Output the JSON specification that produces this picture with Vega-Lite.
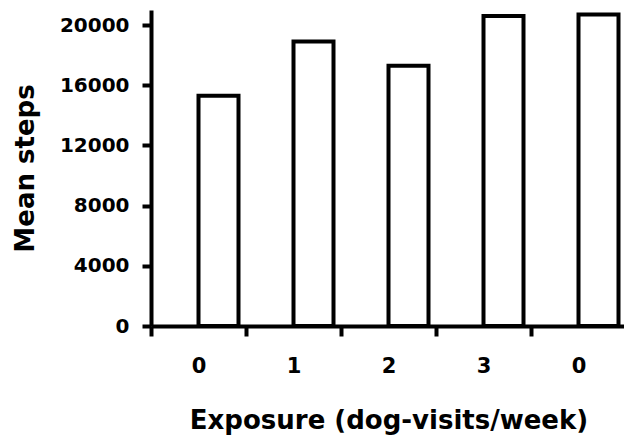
{
  "$schema": "https://vega.github.io/schema/vega-lite/v6.json",
  "width": 475,
  "height": 316,
  "autosize": "none",
  "padding": {"left": 151, "top": 10, "right": 0, "bottom": 111},
  "background": "white",
  "data": {
    "values": [
      {"slot": 1, "exposure": "0", "mean_steps": 15300},
      {"slot": 2, "exposure": "1", "mean_steps": 18900},
      {"slot": 3, "exposure": "2", "mean_steps": 17300},
      {"slot": 4, "exposure": "3", "mean_steps": 20600},
      {"slot": 5, "exposure": "0", "mean_steps": 20700}
    ]
  },
  "mark": {"type": "bar", "fill": "white", "stroke": "black", "strokeWidth": 4, "width": 40, "xOffset": 20},
  "encoding": {
    "x": {
      "field": "slot",
      "type": "ordinal",
      "sort": null,
      "scale": {"paddingInner": 0, "paddingOuter": 0},
      "axis": {
        "title": "Exposure (dog-visits/week)",
        "labelAngle": 0,
        "labelExpr": "['0','1','2','3','0'][datum.value - 1]",
        "tickBand": "extent",
        "tickSize": 10,
        "tickWidth": 4,
        "tickColor": "black",
        "domainWidth": 4,
        "domainColor": "black",
        "labelPadding": 19,
        "labelFont": "DejaVu Sans",
        "labelFontWeight": "bold",
        "labelFontSize": 21,
        "labelColor": "black",
        "titleFont": "DejaVu Sans",
        "titleFontWeight": "bold",
        "titleFontSize": 26,
        "titleColor": "black",
        "titlePadding": 31
      }
    },
    "y": {
      "field": "mean_steps",
      "type": "quantitative",
      "scale": {"domain": [0, 21000], "nice": false},
      "axis": {
        "title": "Mean steps",
        "values": [0, 4000, 8000, 12000, 16000, 20000],
        "format": "d",
        "grid": false,
        "tickSize": 9,
        "tickWidth": 4,
        "tickColor": "black",
        "domainWidth": 4,
        "domainColor": "black",
        "labelPadding": 13,
        "labelFont": "DejaVu Sans",
        "labelFontWeight": "bold",
        "labelFontSize": 20,
        "labelColor": "black",
        "labelFlush": false,
        "titleFont": "DejaVu Sans",
        "titleFontWeight": "bold",
        "titleFontSize": 26,
        "titleColor": "black",
        "titlePadding": 21
      }
    }
  },
  "config": {"view": {"stroke": null}}
}
